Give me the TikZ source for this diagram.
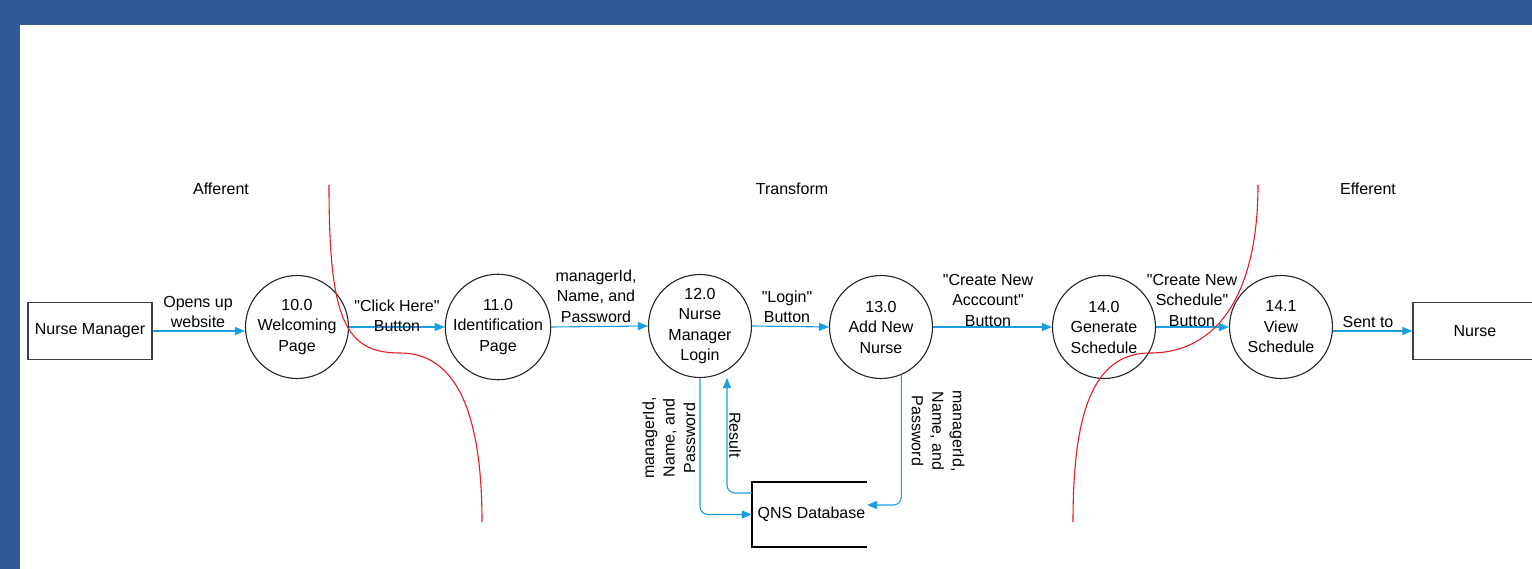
\documentclass[tikz,border=0pt]{standalone}
\usepackage{fontspec}
\setmainfont{Liberation Sans}[Ligatures=TeXOff]
\usetikzlibrary{arrows.meta,calc}
\definecolor{bgblue}{RGB}{49,88,151}
\definecolor{flowblue}{RGB}{27,157,225}
\definecolor{cutred}{RGB}{228,30,36}
\newcommand{\dfdfont}{\fontsize{16}{20.5}\selectfont}
\begin{document}
\begin{tikzpicture}[x=1pt,y=-1pt,
  proc/.style={circle, draw=black!85, line width=1.1pt, minimum size=103pt, inner sep=0pt, align=center, font=\dfdfont},
  ext/.style={rectangle, draw=black!75, line width=1.3pt, minimum width=124pt, minimum height=57pt, font=\dfdfont},
  flow/.style={draw=flowblue, line width=1.1pt, -{Triangle[length=10pt,width=8pt]}},
  lbl/.style={align=center, font=\dfdfont, inner sep=0pt},
  cut/.style={draw=cutred, line width=1.1pt}]
\clip (0,0) rectangle (1532,569);
\useasboundingbox (0,0) rectangle (1532,569);
\fill[bgblue] (0,0) rectangle (1532,569);
\fill[white] (20,25) rectangle (1532,569);

% section labels
\node[lbl] (secA) at (221,189) {Afferent};
\node[lbl] (secT) at (792,189) {Transform};
\node[lbl] (secE) at (1368,189) {Efferent};

% external entities
\node[ext] (nm) at (90,331) {Nurse Manager};
\node[ext] (nurse) at (1475,331) {Nurse};

% processes
\node[proc] (c10) at (297,327) {10.0\\Welcoming\\Page};
\node[proc] (c11) at (498,327) {11.0\\Identification\\Page};
\node[proc] (c12) at (700,326) {12.0\\Nurse\\Manager\\Login};
\node[proc] (c13) at (881,327) {13.0\\Add New\\Nurse};
\node[proc] (c14) at (1104,327) {14.0\\Generate\\Schedule};
\node[proc] (c141) at (1281,327) {14.1\\View\\Schedule};

% data store
\node[minimum width=115pt, minimum height=65pt, inner sep=0pt, font=\dfdfont] (db) at (809.5,514.5) {\hspace*{4pt}QNS Database};
\draw[line width=1.7pt] (db.north east) -- (db.north west) -- (db.south west) -- (db.south east);

% flows
\draw[flow] (nm.east) -- (nm.east -| c10.west);
\draw[flow] (c10.east) -- (c11.west);
\draw[flow] (c11.east) -- (c12.west);
\draw[flow] (c12.east) -- (c13.west);
\draw[flow] (c13.east) -- (c14.west);
\draw[flow] (c14.east) -- (c141.west);
\draw[flow] (c141.east |- nurse.west) -- (nurse.west);

\coordinate (resBot) at (752,493);
\coordinate (resTop) at (727,378);
\coordinate (dbIn) at (867,505);
\draw[flow, rounded corners=8pt] (c12.south) |- (db.west);
\draw[flow, rounded corners=8pt] (resBot) -| (resTop);
\draw[flow, rounded corners=8pt] (c13.-67) |- (dbIn);

% flow labels
\node[lbl] (lOpen) at (198,312) {Opens up\\website};
\node[lbl] (lClick) at (397,316) {"Click Here"\\Button};
\node[lbl] (lMgr) at (596,296) {managerId,\\Name, and\\Password};
\node[lbl] (lLogin) at (787,307) {"Login"\\Button};
\node[lbl] (lAcc) at (988,300) {"Create New\\Acccount"\\Button};
\node[lbl] (lSch) at (1192,300) {"Create New\\Schedule"\\Button};
\node[lbl] (lSent) at (1368,322) {Sent to};
\node[lbl, rotate=90] (lDbIn) at (669,438) {managerId,\\Name, and\\Password};
\node[lbl, rotate=-90] (lRes) at (735,435) {Result};
\node[lbl, rotate=-90] (lDbOut) at (938,431) {managerId,\\Name, and\\Password};

% boundary curves
\draw[cut] (329,185) .. controls (329,320) and (345,353) .. (400,353)
                     .. controls (450,353) and (482,400) .. (482,522);
\draw[cut] (1258,185) .. controls (1258,290) and (1220,353) .. (1150,353)
                      .. controls (1090,353) and (1073,420) .. (1073,522);
\end{tikzpicture}
\end{document}
